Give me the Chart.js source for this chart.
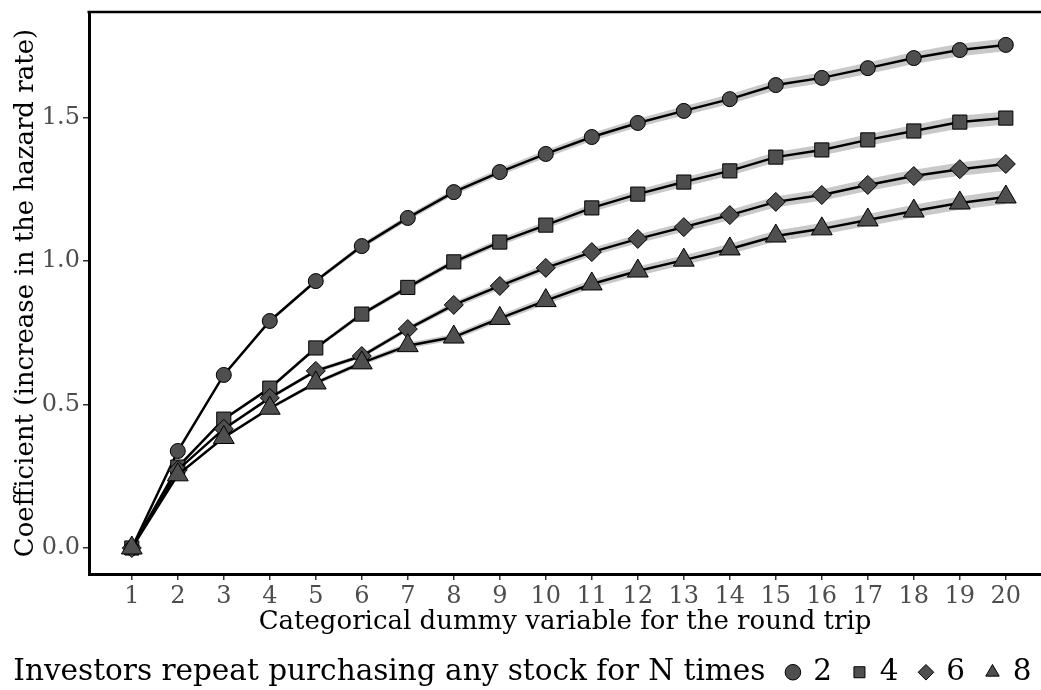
<!DOCTYPE html>
<html>
<head>
<meta charset="utf-8">
<script src="https://cdn.jsdelivr.net/npm/chart.js@4"></script>
<style>
  html, body { margin: 0; padding: 0; background: #fff; }
  #wrap { width: 1041px; height: 690px; }
</style>
</head>
<body>
<div id="wrap"><canvas id="roundTripChart" width="1041" height="690"></canvas></div>
<script>
// x categories: the round-trip dummy
const rounds = [1, 2, 3, 4, 5, 6, 7, 8, 9, 10, 11, 12, 13, 14, 15, 16, 17, 18, 19, 20];

// coefficients, one array per N
const coefN2 = [0, 0.338, 0.603, 0.791, 0.930, 1.052, 1.150, 1.240, 1.310, 1.373, 1.432, 1.481, 1.523, 1.564, 1.613, 1.638, 1.672, 1.707, 1.735, 1.753];
const coefN4 = [0, 0.282, 0.449, 0.557, 0.697, 0.815, 0.908, 0.997, 1.066, 1.125, 1.185, 1.233, 1.275, 1.314, 1.362, 1.387, 1.422, 1.453, 1.484, 1.498];
const coefN6 = [0, 0.272, 0.415, 0.523, 0.617, 0.669, 0.763, 0.847, 0.913, 0.976, 1.031, 1.077, 1.118, 1.160, 1.206, 1.230, 1.265, 1.296, 1.320, 1.338];
const coefN8 = [0, 0.255, 0.385, 0.487, 0.575, 0.645, 0.705, 0.735, 0.800, 0.862, 0.920, 0.965, 1.003, 1.042, 1.087, 1.112, 1.143, 1.174, 1.202, 1.223];

// half-width of the grey confidence ribbons (estimated)
const bandN2 = [0, 0.004, 0.005, 0.006, 0.007, 0.009, 0.010, 0.011, 0.012, 0.013, 0.014, 0.015, 0.016, 0.017, 0.018, 0.019, 0.020, 0.021, 0.022, 0.022];
const bandN4 = [0, 0.004, 0.005, 0.006, 0.007, 0.008, 0.009, 0.010, 0.012, 0.013, 0.014, 0.015, 0.016, 0.017, 0.018, 0.019, 0.020, 0.021, 0.022, 0.023];
const bandN6 = [0, 0.004, 0.005, 0.006, 0.007, 0.008, 0.009, 0.011, 0.012, 0.013, 0.014, 0.015, 0.016, 0.018, 0.019, 0.020, 0.021, 0.022, 0.023, 0.024];
const bandN8 = [0, 0.004, 0.005, 0.006, 0.007, 0.008, 0.010, 0.011, 0.012, 0.013, 0.015, 0.016, 0.017, 0.018, 0.019, 0.020, 0.021, 0.022, 0.023, 0.024];

const seriesLabels = ['2', '4', '6', '8'];
const yTicks = [0, 0.5, 1.0, 1.5];
const legendTitle = 'Investors repeat purchasing any stock for N times';

const serif = "'DejaVu Serif', serif";
const markFill = '#4f4f4f';
const ribbon = '#c9c9c9';
const shapes = ['circle', 'rect', 'rectRot', 'triangle'];
const radii = [7.5, 10, 9.5, 12];

// the legend is made wider than the canvas so its row does not wrap
const padL = -36, padR = -14;

const coefs = [coefN2, coefN4, coefN6, coefN8];
const bands = [bandN2, bandN4, bandN6, bandN8];

const datasets = [];
coefs.forEach(function(vals, i) {
  const lo = vals.map((v, k) => v - bands[i][k]);
  const hi = vals.map((v, k) => v + bands[i][k]);
  datasets.push({
    label: 'lo' + i, data: lo,
    borderWidth: 0, pointRadius: 0, fill: false, order: 10
  });
  datasets.push({
    label: 'hi' + i, data: hi,
    borderWidth: 0, pointRadius: 0, fill: '-1', backgroundColor: ribbon, order: 10
  });
});
coefs.forEach(function(vals, i) {
  datasets.push({
    label: seriesLabels[i],
    data: vals,
    borderColor: '#000',
    borderWidth: 2.5,
    pointStyle: shapes[i],
    pointRadius: radii[i],
    pointBackgroundColor: markFill,
    pointBorderColor: '#000',
    pointBorderWidth: 1,
    fill: false,
    order: 4 - i
  });
});

const topBorder = {
  id: 'topBorder',
  afterDraw(chart) {
    const a = chart.chartArea;
    const ctx = chart.ctx;
    ctx.save();
    ctx.strokeStyle = '#000';
    ctx.lineWidth = 2.5;
    ctx.beginPath();
    ctx.moveTo(a.left - 1.5, a.top);
    ctx.lineTo(chart.width, a.top);
    ctx.stroke();
    ctx.restore();
  }
};

const config = {
  type: 'line',
  data: { labels: rounds, datasets: datasets },
  options: {
    responsive: false,
    animation: false,
    layout: { autoPadding: false, padding: { top: 12, left: padL, right: padR, bottom: -7 } },
    plugins: {
      tooltip: { enabled: false },
      legend: {
        position: 'bottom',
        labels: {
          usePointStyle: true,
          boxWidth: 11,
          boxHeight: 11,
          padding: 22,
          color: '#000',
          font: { family: serif, size: 29.5 },
          generateLabels: function() {
            const items = [{
              text: legendTitle, pointStyle: 'circle', fillStyle: 'rgba(0,0,0,0)',
              strokeStyle: 'rgba(0,0,0,0)', lineWidth: 0, hidden: false
            }];
            seriesLabels.forEach(function(s, i) {
              items.push({
                text: s, pointStyle: shapes[i], fillStyle: markFill,
                strokeStyle: '#000', lineWidth: 1, hidden: false
              });
            });
            return items;
          }
        }
      }
    },
    scales: {
      x: {
        type: 'linear',
        min: 0.07,
        max: 20.765,
        afterBuildTicks: function(scale) { scale.ticks = rounds.map(v => ({ value: v })); },
        afterFit: function(scale) { scale.height = 61.5; scale.paddingLeft = 0; scale.paddingRight = 0; },
        border: { display: true, color: '#000', width: 3 },
        grid: { drawOnChartArea: false, drawTicks: true, tickLength: 6, color: '#333', lineWidth: 1.5 },
        ticks: {
          color: '#4d4d4d', padding: 5, maxRotation: 0, autoSkip: false,
          font: { family: serif, size: 24, lineHeight: 1 }
        },
        title: {
          display: true, text: 'Categorical dummy variable for the round trip', color: '#000',
          padding: { top: 2, bottom: 0 },
          font: { family: serif, size: 26, lineHeight: 1 }
        }
      },
      y: {
        min: -0.0906,
        max: 1.8676,
        afterBuildTicks: function(scale) { scale.ticks = yTicks.map(v => ({ value: v })); },
        afterFit: function(scale) { scale.width = 89 - padL; scale.paddingTop = 0; scale.paddingBottom = 0; },
        border: { display: true, color: '#000', width: 3 },
        grid: { drawOnChartArea: false, drawTicks: true, tickLength: 6, color: '#333', lineWidth: 1.5 },
        ticks: {
          color: '#4d4d4d', padding: 3,
          font: { family: serif, size: 24 },
          callback: v => v.toFixed(1)
        },
        title: {
          display: true, text: 'Coefficient (increase in the hazard rate)', color: '#000',
          padding: { top: 13 - padL, bottom: 0 },
          font: { family: serif, size: 26, lineHeight: 1 }
        }
      }
    }
  },
  plugins: [topBorder]
};

new Chart(document.getElementById('roundTripChart').getContext('2d'), config);
</script>
</body>
</html>
